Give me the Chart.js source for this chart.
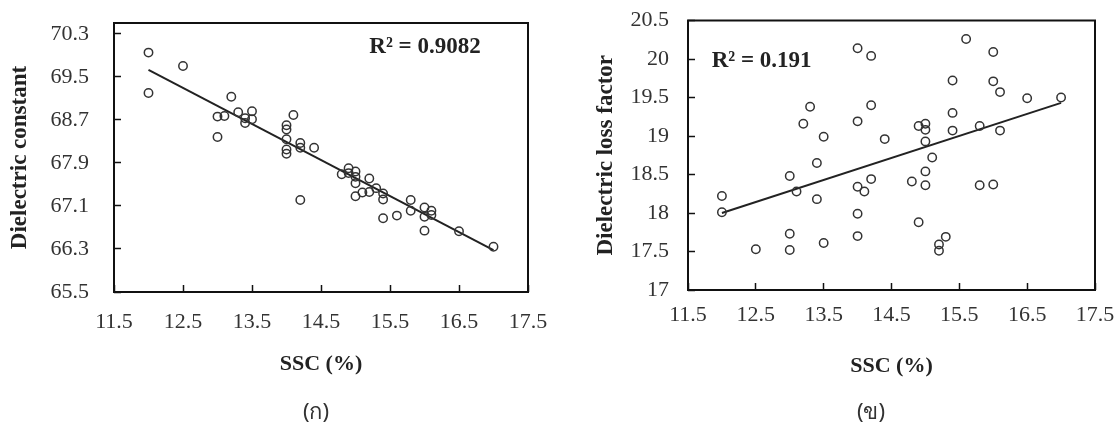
<!DOCTYPE html>
<html>
<head>
<meta charset="utf-8">
<script src="https://cdn.jsdelivr.net/npm/chart.js@4"></script>
<style>
  html, body { margin: 0; padding: 0; background: #fff; }
  #wrap { position: relative; width: 1117px; height: 423px; overflow: hidden; }
  #c1 { position: absolute; left: 0; top: 0; }
  #c2 { position: absolute; left: 560px; top: 0; }
  .cap { position: absolute; top: 394px; font: 22px "Noto Sans", "DejaVu Sans", sans-serif; color: #333; transform: translateX(-50%); }
</style>
</head>
<body>
<div id="wrap">
  <canvas id="c1" width="560" height="423"></canvas>
  <canvas id="c2" width="557" height="423"></canvas>
  <div class="cap" style="left:316px">(ก)</div>
  <div class="cap" style="left:871px">(ข)</div>
</div>
<script>
// (ก) dielectric constant vs SSC
const ssc1 = [12.0, 12.0, 12.5, 13.0, 13.0, 13.1, 13.2, 13.3, 13.4, 13.4, 13.5, 13.5,
  14.0, 14.0, 14.0, 14.0, 14.0, 14.1, 14.2, 14.2, 14.2, 14.4, 14.8, 14.9, 14.9,
  15.0, 15.0, 15.0, 15.0, 15.1, 15.2, 15.2, 15.3, 15.4, 15.4, 15.4, 15.6, 15.8, 15.8,
  16.0, 16.0, 16.1, 16.1, 16.0, 16.5, 17.0];
const dielConst = [69.95, 69.2, 69.7, 68.76, 68.38, 68.77, 69.13, 68.84, 68.73, 68.64, 68.86, 68.71,
  68.6, 68.52, 68.34, 68.15, 68.07, 68.79, 68.27, 68.18, 67.21, 68.18, 67.69, 67.8, 67.71,
  67.74, 67.64, 67.52, 67.28, 67.35, 67.61, 67.36, 67.43, 67.33, 67.22, 66.87, 66.92, 67.21, 67.01,
  67.07, 66.9, 67.01, 66.93, 66.64, 66.63, 66.34];
const trend1X = [12, 17];
const trend1Y = [69.63, 66.28];
const yTicks1 = [65.5, 66.3, 67.1, 67.9, 68.7, 69.5, 70.3];

// (ข) dielectric loss factor vs SSC
const ssc2 = [12.0, 12.0, 12.5, 13.0, 13.1, 13.0, 13.0, 13.2, 13.3, 13.5, 13.4, 13.4, 13.5,
  14.0, 14.2, 14.2, 14.0, 14.4, 14.0, 14.1, 14.2, 14.0, 14.0,
  14.9, 15.0, 15.0, 15.0, 15.1, 15.0, 14.8, 15.0, 14.9, 15.3, 15.2, 15.2,
  15.4, 15.4, 15.4, 15.6, 16.0, 16.0, 16.1, 16.5, 17.0, 15.8, 16.1, 15.8, 16.0];
const lossFactor = [18.22, 18.01, 17.53, 18.48, 18.28, 17.73, 17.52, 19.16, 19.38, 18.99, 18.65, 18.18, 17.61,
  20.14, 20.04, 19.40, 19.19, 18.96, 18.34, 18.28, 18.44, 17.99, 17.70,
  19.13, 19.16, 19.08, 18.93, 18.72, 18.54, 18.41, 18.36, 17.88, 17.69, 17.59, 17.51,
  19.72, 19.30, 19.07, 20.26, 20.09, 19.71, 19.57, 19.49, 19.50, 19.13, 19.07, 18.36, 18.37];
const trend2X = [12, 17];
const trend2Y = [18.0, 19.43];
const yTicks2 = [17, 17.5, 18, 18.5, 19, 19.5, 20, 20.5];

const xTicks = [11.5, 12.5, 13.5, 14.5, 15.5, 16.5, 17.5];

const serif = 'Liberation Serif';
const ink = '#222';

const boxPlugin = {
  id: 'box',
  afterDraw(chart) {
    const { ctx, chartArea: a } = chart;
    ctx.save();
    ctx.strokeStyle = '#111';
    ctx.lineWidth = 2;
    ctx.strokeRect(a.left, a.top, a.right - a.left, a.bottom - a.top);
    ctx.restore();
  }
};

const pts = (xs, ys) => xs.map((x, i) => ({ x, y: ys[i] }));

// big tick paddings would otherwise push the chart area in
const noPad = s => { s.paddingTop = 0; s.paddingBottom = 0; s.paddingLeft = 0; s.paddingRight = 0; };

function makeChart(id, o) {
  return new Chart(document.getElementById(id), {
    type: 'scatter',
    data: {
      datasets: [
        {
          data: pts(o.xs, o.ys),
          pointStyle: 'circle',
          pointRadius: 4.2,
          borderWidth: 1.5,
          borderColor: '#333',
          backgroundColor: 'rgba(0,0,0,0)',
        },
        {
          type: 'line',
          data: pts(o.tx, o.ty),
          borderColor: ink,
          borderWidth: 2,
          pointRadius: 0,
          fill: false,
        },
      ],
    },
    options: {
      responsive: false,
      animation: false,
      events: [],
      layout: { padding: o.pad },
      plugins: { legend: { display: false }, tooltip: { enabled: false } },
      scales: {
        x: {
          type: 'linear',
          min: 11.5,
          max: 17.5,
          afterBuildTicks: s => { s.ticks = xTicks.map(value => ({ value })); },
          afterFit: s => { s.height = o.xh; noPad(s); },
          grid: { drawOnChartArea: false, tickLength: -7, tickWidth: 1.5, tickColor: '#111' },
          border: { display: false },
          ticks: { padding: o.xtp, color: '#333', font: { family: serif, size: 22 }, callback: v => String(v), maxRotation: 0 },
          title: { display: true, text: 'SSC (%)', color: ink, font: { family: serif, size: 22, weight: 'bold' }, padding: { bottom: o.xtt } },
        },
        y: {
          type: 'linear',
          min: o.ymin,
          max: o.ymax,
          afterBuildTicks: s => { s.ticks = o.yt.map(value => ({ value })); },
          afterFit: s => { s.width = o.yw; noPad(s); },
          grid: { drawOnChartArea: false, tickLength: -7, tickWidth: 1.5, tickColor: '#111' },
          border: { display: false },
          ticks: { padding: o.ytp, color: '#333', font: { family: serif, size: 22 }, callback: v => String(v) },
          title: { display: true, text: o.ytitle, color: ink, font: { family: serif, size: 23, weight: 'bold' }, padding: { top: o.ytt } },
        },
      },
    },
    plugins: [boxPlugin, {
      id: 'r2',
      afterDraw(chart) {
        const { ctx } = chart;
        ctx.save();
        ctx.fillStyle = ink;
        ctx.font = 'bold 23px ' + serif;
        ctx.textBaseline = 'middle';
        const px = chart.scales.x.getPixelForValue(o.r2x);
        const py = chart.scales.y.getPixelForValue(o.r2y);
        ctx.fillText(o.r2, px, py);
        ctx.restore();
      }
    }],
  });
}

makeChart('c1', {
  xs: ssc1, ys: dielConst, tx: trend1X, ty: trend1Y,
  ymin: 65.5, ymax: 70.5, yt: yTicks1,
  pad: { top: 23, right: 32, left: 0, bottom: 0 }, xh: 131, yw: 114,
  xtp: 24, ytp: 32, xtt: 45, ytt: 6,
  ytitle: 'Dielectric constant',
  r2: 'R² = 0.9082', r2x: 15.2, r2y: 70.05,
});

makeChart('c2', {
  xs: ssc2, ys: lossFactor, tx: trend2X, ty: trend2Y,
  ymin: 17, ymax: 20.5, yt: yTicks2,
  pad: { top: 20.5, right: 22, left: 0, bottom: 0 }, xh: 133, yw: 128,
  xtp: 19, ytp: 26, xtt: 43, ytt: 32,
  ytitle: 'Dielectric loss factor',
  r2: 'R² = 0.191', r2x: 11.85, r2y: 19.97,
});
</script>
</body>
</html>
